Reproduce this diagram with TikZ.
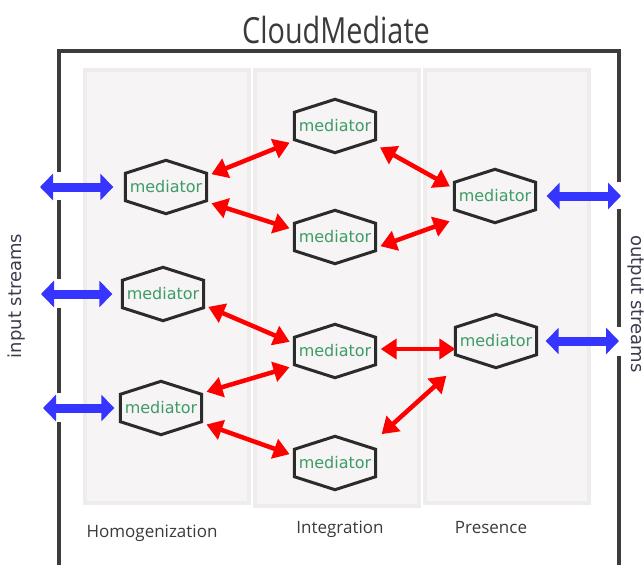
\documentclass[tikz,border=0pt]{standalone}
\usepackage{fontspec}
\setmainfont{DejaVu Sans}
\newfontfamily\openfont{Open Sans}
\usetikzlibrary{arrows.meta}

\definecolor{medgreen}{HTML}{3E9C66}
\definecolor{hexgray}{HTML}{2B2B2B}
\definecolor{framegray}{HTML}{3C3C3C}
\definecolor{panelfill}{HTML}{F6F4F5}
\definecolor{paneledge}{HTML}{EFEDEC}
\definecolor{linkred}{HTML}{FF0000}
\definecolor{streamblue}{HTML}{3535FF}
\definecolor{textgray}{HTML}{3A3A3A}
\definecolor{sidegray}{HTML}{3B3B4F}

\tikzset{
  medhex/.style={minimum width=81pt, minimum height=53pt, inner sep=0pt,
    text=medgreen, font=\fontsize{16}{19}\selectfont},
  redlink/.style={draw=linkred, line width=4.5pt,
    {Triangle[length=16pt,width=20pt]}-{Triangle[length=16pt,width=20pt]},
    shorten <=5pt, shorten >=5pt},
  bluestream/.style={draw=streamblue, line width=9pt,
    {Triangle[length=13pt,width=26pt]}-{Triangle[length=13pt,width=26pt]}},
  panel/.style={fill=panelfill, draw=paneledge, line width=4pt},
  stagelabel/.style={text=textgray, font=\openfont\fontsize{17}{20}\selectfont, anchor=base},
  sidelabel/.style={text=sidegray, font=\fontsize{18}{22}\selectfont},
}

\begin{document}
\begin{tikzpicture}[x=1pt, y=-1pt]
  \useasboundingbox (0,0) rectangle (644,564);

  % Title and frame
  \node[text=textgray, font=\openfont\fontsize{36}{40}\selectfont, anchor=base, xscale=0.8] (title) at (336,44) {CloudMediate};
  \draw[framegray, line width=3.5pt] (59,570) -- (59,51) -- (619,51) -- (619,570);
  \foreach \ya/\yb in {172/200, 279/308, 393/422}
    \fill[white] (54,\ya) rectangle (64,\yb);
  \foreach \ya/\yb in {182/209, 327/356}
    \fill[white] (614,\ya) rectangle (624,\yb);

  % Stages
  \draw[panel] (85,70) rectangle (249,503);
  \draw[panel] (255,70) rectangle (419,506);
  \draw[panel] (425,70) rectangle (589,503);
  \node[stagelabel] (homog) at (152,537) {Homogenization};
  \node[stagelabel] (integ) at (340,533) {Integration};
  \node[stagelabel] (pres) at (491,533) {Presence};

  % Mediators
  \node[medhex] (h1) at (166,187) {mediator};
  \node[medhex] (h2) at (163,294) {mediator};
  \node[medhex] (h3) at (161,408) {mediator};
  \node[medhex] (i1) at (335,126) {mediator};
  \node[medhex] (i2) at (335,237) {mediator};
  \node[medhex] (i3) at (335,351) {mediator};
  \node[medhex] (i4) at (335,463) {mediator};
  \node[medhex] (p1) at (495,196) {mediator};
  \node[medhex] (p2) at (496,341) {mediator};

  \foreach \n in {h1,h2,h3,i1,i2,i3,i4,p1,p2}
    \draw[hexgray, line width=3pt] (\n.north) -- ([yshift=-13pt]\n.north east)
      -- ([yshift=13pt]\n.south east) -- (\n.south) -- ([yshift=13pt]\n.south west)
      -- ([yshift=-13pt]\n.north west) -- cycle;

  % Links between mediators
  \draw[redlink] (h1.15) -- (i1.200);
  \draw[redlink] (h1.-20) -- (i2.170);
  \draw[redlink] (i1.-25) -- (p1.170);
  \draw[redlink] (i2.-15) -- (p1.210);
  \draw[redlink] (h2.-15) -- (i3.170);
  \draw[redlink] (h3.20) -- (i3.200);
  \draw[redlink] (h3.-20) -- (i4.170);
  \draw[redlink, shorten <=8pt, shorten >=12pt] (i4.30) -- (p2.south west);
  \draw[redlink, shorten <=5pt, shorten >=0pt] ([yshift=2pt]i3.east) -- ([yshift=2pt]i3.east -| p2.west);

  % Streams in and out
  \coordinate (in1) at (40,187);
  \coordinate (in2) at (41,294);
  \coordinate (in3) at (43,408);
  \coordinate (out1) at (621,196);
  \coordinate (out2) at (619,341);
  \draw[bluestream, shorten >=12pt] (in1) -- (h1.west);
  \draw[bluestream, shorten >=10pt] (in2) -- (h2.west);
  \draw[bluestream, shorten >=6pt] (in3) -- (h3.west);
  \draw[bluestream, shorten <=11pt] (p1.east) -- (out1);
  \draw[bluestream, shorten <=9pt] (p2.east) -- (out2);

  \node[sidelabel, rotate=90] (instreams) at (17,296) {input streams};
  \node[sidelabel, rotate=-90] (outstreams) at (636,304) {output streams};
\end{tikzpicture}
\end{document}
